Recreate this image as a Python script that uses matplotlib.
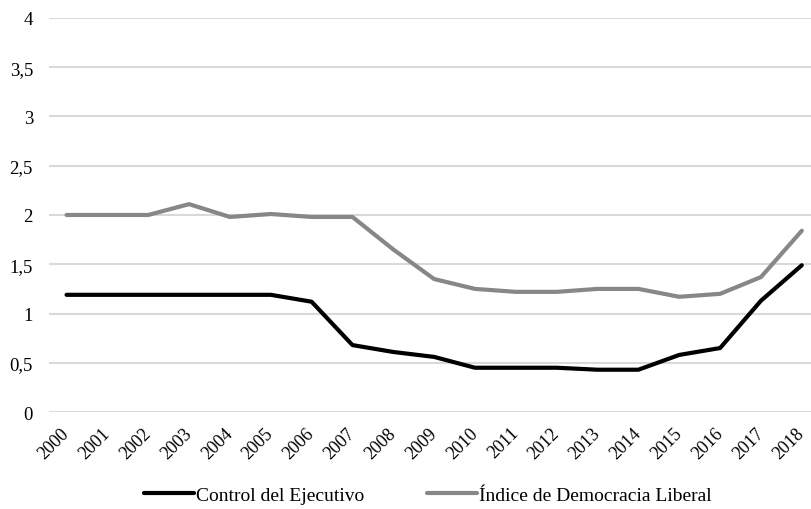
import matplotlib
matplotlib.use("Agg")
import matplotlib.pyplot as plt
from matplotlib.ticker import FuncFormatter

years = [str(y) for y in range(2000, 2019)]
control_ejecutivo = [1.19, 1.19, 1.19, 1.19, 1.19, 1.19, 1.12, 0.68, 0.61, 0.56,
                     0.45, 0.45, 0.45, 0.43, 0.43, 0.58, 0.65, 1.13, 1.49]
democracia_liberal = [2.00, 2.00, 2.00, 2.11, 1.98, 2.01, 1.98, 1.98, 1.65, 1.35,
                      1.25, 1.22, 1.22, 1.25, 1.25, 1.17, 1.20, 1.37, 1.84]
y_ticks = [0, 0.5, 1, 1.5, 2, 2.5, 3, 3.5, 4]

plt.rcParams["font.family"] = ["Liberation Serif", "DejaVu Serif"]

fig = plt.figure(figsize=(8.12, 5.10), dpi=100)
ax = fig.add_axes([0.0603, 0.190, 0.9397, 0.773])

x = list(range(len(years)))
ax.plot(x, control_ejecutivo, color="#000000", lw=3.0, solid_capstyle="round",
        solid_joinstyle="round", label="Control del Ejecutivo", zorder=3)
ax.plot(x, democracia_liberal, color="#878787", lw=3.0, solid_capstyle="round",
        solid_joinstyle="round", label="Índice de Democracia Liberal", zorder=3)

ax.set_xlim(-0.43, 18.25)
ax.set_ylim(0, 4)
ax.set_yticks(y_ticks)
ax.yaxis.set_major_formatter(FuncFormatter(lambda v, p: f"{v:g}".replace(".", ",")))
ax.set_xticks(x)
ax.set_xticklabels(years, rotation=45, ha="right", va="center", rotation_mode="anchor")
ax.tick_params(axis="both", length=0, colors="#000000")
ax.tick_params(axis="y", labelsize=13.5, pad=11.5)
ax.tick_params(axis="x", labelsize=13, pad=13)
ax.grid(axis="y", color="#d9d9d9", lw=1.5)
ax.set_axisbelow(True)
for s in ax.spines.values():
    s.set_visible(False)

fig.legend(loc="center", bbox_to_anchor=(0.527, 0.027), ncol=2, frameon=False,
           fontsize=14, handlelength=2.6, handletextpad=0.1, columnspacing=3.2)

fig.savefig("out.png", dpi=100)
